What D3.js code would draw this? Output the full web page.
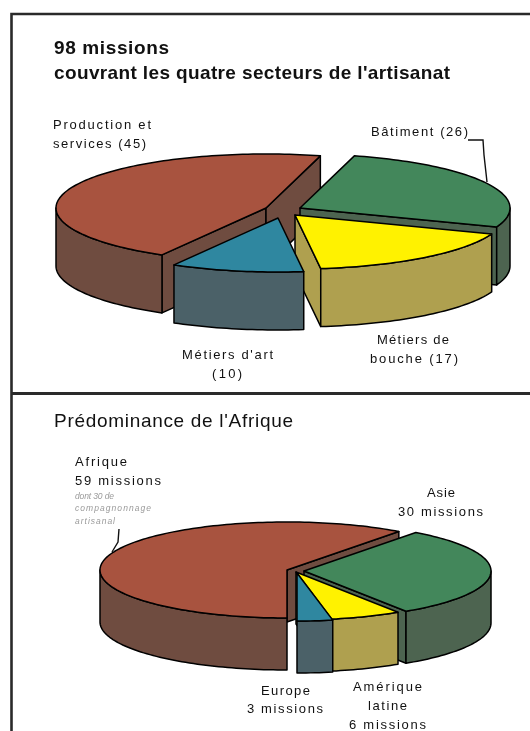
<!DOCTYPE html>
<html><head><meta charset="utf-8">
<script src="https://cdn.jsdelivr.net/npm/d3@7"></script>
<style>html,body{margin:0;padding:0;background:#fff;overflow:hidden}svg{display:block;filter:blur(.5px)}</style>
</head><body><svg id="c" width="530" height="731"></svg>
<script>
// ---- data ----
const sectorNames = ["Bâtiment","Métiers de bouche","Métiers d'art","Production et services"];
const sectorValues = [26,17,10,45];
const regionNames = ["Afrique","Asie","Amérique latine","Europe"];
const regionValues = [59,30,6,3];
const titleLines = ["98 missions","couvrant les quatre secteurs de l'artisanat"];
const title2 = "Prédominance de l'Afrique";
const sectorLabels = [
 ["Production et",53,129,98],["services (45)",53,148,93],["Bâtiment (26)",371,136,97],
 ["Métiers de",377,344,72],["bouche (17)",370,363,88],["Métiers d'art",182,359,91],["(10)",212,378,30]];
const regionLabels = [
 ["Afrique",75,466,52],["59 missions",75,485,86],["Asie",427,497,28],["30 missions",398,516,85],
 ["Europe",261,695,49],["3 missions",247,713,76],["Amérique",353,691,69],["latine",368,710,39],["6 missions",349,729,77]];
const noteLines = ["dont 30 de","compagnonnage","artisanal"];
const sectorColors = [["#43875b","#4d6450"],["#fff200","#afa04f"],["#2f87a0","#4b6168"],["#a8533f","#6f4c40"]];
const regionColors = [["#a8533f","#6f4c40"],["#43875b","#4d6450"],["#fff200","#afa04f"],["#2f87a0","#4b6168"]];

const svg = d3.select("#c");
const FONT = "'Liberation Sans',Arial,sans-serif";

// frames
const frame = svg.append("g").attr("stroke","#2a2a2a").attr("fill","none");
frame.append("path").attr("stroke-width",2.6).attr("d","M530,14H11.5V731");
frame.append("path").attr("stroke-width",3).attr("d","M11,393.5H530");

function pie3d(opt){
  const pie = d3.pie().sort(null).value(d=>d).startAngle(opt.start).endAngle(opt.start+2*Math.PI);
  const arcs = pie(opt.values);
  const g = svg.append("g").attr("stroke","#000").attr("stroke-width",1.5).attr("stroke-linejoin","round");
  opt.order.forEach(i=>{
    const a = arcs[i], off = opt.centers[i];
    const X = d3.scaleLinear([-1,1],[off[0]-opt.rx,off[0]+opt.rx]);
    const Y = d3.scaleLinear([-1,1],[off[1]-opt.ry,off[1]+opt.ry]);
    const t0 = a.startAngle-Math.PI/2, t1 = a.endAngle-Math.PI/2;
    const pt = (t,dz=0)=>[X(Math.cos(t)),Y(Math.sin(t))+dz];
    const ctr = (dz=0)=>[X(0),Y(0)+dz];
    const samples = (p,q)=>{const n=Math.max(2,Math.ceil(Math.abs(q-p)*40));return d3.range(n+1).map(k=>p+(q-p)*k/n);};
    const line = d3.line();
    // radial cut faces that look towards the viewer
    const cut = (t)=> g.append("path").attr("fill",opt.colors[i][1])
       .attr("d",line([ctr(),pt(t),pt(t,opt.depth),ctr(opt.depth)])+"Z");
    if(Math.cos(t0)<-1e-6) cut(t0);
    if(Math.cos(t1)>1e-6) cut(t1);
    // outer rim: only where sin(t)>0
    for(let k=-1;k<=2;k++){
      const lo=Math.max(t0,k*2*Math.PI), hi=Math.min(t1,k*2*Math.PI+Math.PI);
      if(hi>lo){
        const s=samples(lo,hi);
        g.append("path").attr("fill",opt.colors[i][1])
          .attr("d",line(s.map(t=>pt(t)).concat(s.slice().reverse().map(t=>pt(t,opt.depth))))+"Z");
      }
    }
    // top
    g.append("path").attr("fill",opt.colors[i][0])
      .attr("d",line([ctr()].concat(samples(t0,t1).map(t=>pt(t))))+"Z");
  });
}

pie3d({values:sectorValues,colors:sectorColors,start:15*Math.PI/180,rx:210,ry:54,depth:58,
  order:[3,0,1,2],
  centers:[[300,208],[295,215],[278,218],[266,208]]});
pie3d({values:regionValues,colors:regionColors,start:Math.PI,rx:187,ry:48,depth:52,
  order:[0,1,2,3],
  centers:[[287,570],[304,571],[296,572],[297,573]]});

// leaders
const leader = svg.append("g").attr("fill","none").attr("stroke","#111").attr("stroke-width",1.4);
leader.append("path").attr("d",d3.line()([[468,140],[483,140],[484,155],[487,182]]));
leader.append("path").attr("d",d3.line()([[119,529],[118,542],[112,552]]));

// text
const txt=(s,x,y,size,w,extra={})=>{
  const t=svg.append("text").attr("x",x).attr("y",y).attr("font-family",FONT).attr("font-size",size)
    .attr("fill",extra.fill||"#111").attr("font-weight",extra.weight||"normal").attr("font-style",extra.style||"normal").text(s);
  if(w) t.attr("textLength",w).attr("lengthAdjust","spacing");
};
txt(titleLines[0],54,54,19,115,{weight:"bold"});
txt(titleLines[1],54,79,19,396,{weight:"bold"});
sectorLabels.forEach(d=>txt(d[0],d[1],d[2],13,d[3]));
txt(title2,54,427,19,239);
regionLabels.forEach(d=>txt(d[0],d[1],d[2],13,d[3]));
noteLines.forEach((s,i)=>txt(s,75,[499,511,524][i],8.5,[39,76,40][i],{fill:"#9a9a9a",style:"italic"}));
</script></body></html>
